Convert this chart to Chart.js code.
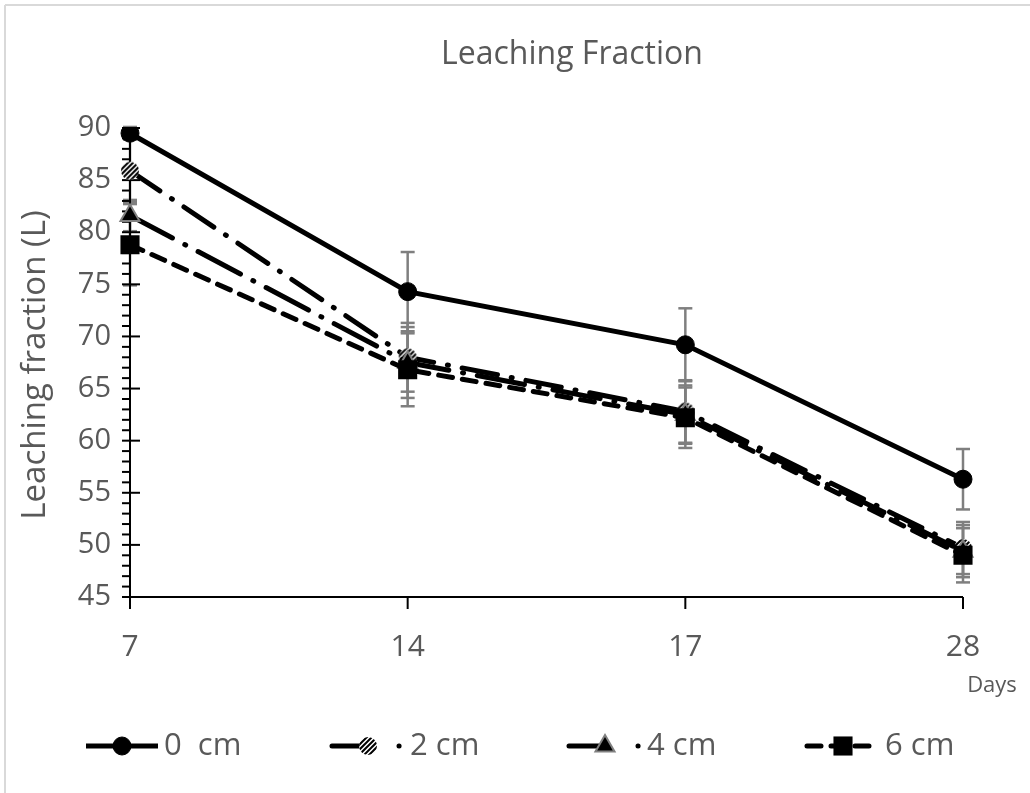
<!DOCTYPE html>
<html>
<head>
<meta charset="utf-8">
<script src="https://cdn.jsdelivr.net/npm/chart.js@4.4.1/dist/chart.umd.min.js"></script>
<style>
  html, body { margin: 0; padding: 0; background: #fff; }
  #wrap { width: 1030px; height: 793px; }
</style>
</head>
<body>
<div id="wrap"><canvas id="grafica" width="1030" height="793"></canvas></div>
<script>
// datos
const dias = ['7', '14', '17', '28'];
const series = ['0  cm', '2 cm', '4 cm', '6 cm'];
const valores0 = [89.5, 74.3, 69.2, 56.3];
const valores2 = [85.9, 68.0, 62.8, 49.7];
const valores4 = [81.6, 67.5, 62.5, 49.4];
const valores6 = [78.8, 66.8, 62.2, 49.0];
const error0 = [0.6, 3.8, 3.5, 2.9];
const error2 = [3.0, 3.3, 3.0, 2.5];
const error4 = [1.5, 3.4, 2.8, 2.5];
const error6 = [3.9, 3.5, 2.9, 2.6];
const ejeY = { min: 45, max: 90, paso: 5 };

const GRIS = '#595959';
const FUENTE = "'Open Sans', 'Noto Sans', sans-serif";

// marcador circular rayado (serie 2 cm)
function crearRayado(r) {
  const c = document.createElement('canvas');
  const s = r * 2 + 2;
  c.width = s; c.height = s;
  const g = c.getContext('2d');
  g.beginPath();
  g.arc(s / 2, s / 2, r, 0, Math.PI * 2);
  g.fillStyle = '#fff';
  g.fill();
  g.save();
  g.clip();
  g.strokeStyle = '#000';
  g.lineWidth = 2;
  for (let k = -s; k < 2 * s; k += 5) {
    g.beginPath();
    g.moveTo(k, s);
    g.lineTo(k + s, 0);
    g.stroke();
  }
  g.restore();
  return c;
}
const rayado = crearRayado(9);

const datasets = [
  {
    label: series[0], data: valores0, errores: error0,
    borderColor: '#000', borderWidth: 5, borderDash: [], trazoLeyenda: [],
    pointStyle: 'circle', pointRadius: 9,
    pointBackgroundColor: '#000', pointBorderColor: '#000', pointBorderWidth: 1,
    order: 3
  },
  {
    label: series[1], data: valores2, errores: error2,
    borderColor: '#000', borderWidth: 5, borderDash: [36, 14, 1, 14], borderCapStyle: 'round',
    trazoLeyenda: [36, 31, 0.1, 60],
    pointStyle: rayado, pointRadius: 9,
    order: 2
  },
  {
    label: series[2], data: valores4, errores: error4,
    borderColor: '#000', borderWidth: 5, borderDash: [48, 14, 1, 14], borderCapStyle: 'round',
    trazoLeyenda: [36, 33, 0.1, 60],
    pointStyle: 'triangle', pointRadius: 11,
    pointBackgroundColor: '#000', pointBorderColor: '#808080', pointBorderWidth: 2,
    order: 1
  },
  {
    label: series[3], data: valores6, errores: error6,
    borderColor: '#000', borderWidth: 5, borderDash: [14, 10], borderCapStyle: 'round',
    trazoLeyenda: [14, 10],
    pointStyle: 'rect', pointRadius: 13.5,
    pointBackgroundColor: '#000', pointBorderColor: '#000', pointBorderWidth: 0,
    order: 0
  }
];

const linea = (ctx, x1, y1, x2, y2) => {
  ctx.beginPath();
  ctx.moveTo(x1, y1);
  ctx.lineTo(x2, y2);
  ctx.stroke();
};

// ejes, marcas y barras de error (debajo de las series)
const decorado = {
  id: 'decorado',
  beforeDatasetsDraw(chart) {
    const ctx = chart.ctx;
    const a = chart.chartArea;
    const x = chart.scales.x;
    const y = chart.scales.y;
    ctx.save();

    // barras de error
    ctx.strokeStyle = '#7f7f7f';
    ctx.lineWidth = 2.5;
    chart.data.datasets.forEach((ds) => {
      ds.data.forEach((v, i) => {
        const e = ds.errores[i];
        const px = x.getPixelForValue(i);
        const arriba = y.getPixelForValue(v + e);
        const abajo = y.getPixelForValue(v - e);
        linea(ctx, px, arriba, px, abajo);
        linea(ctx, px - 7, arriba, px + 7, arriba);
        linea(ctx, px - 7, abajo, px + 7, abajo);
      });
    });

    // eje Y con marcas menores
    ctx.strokeStyle = '#000';
    ctx.lineWidth = 2;
    linea(ctx, a.left, a.top, a.left, a.bottom);
    for (let v = ejeY.min; v <= ejeY.max; v++) {
      const py = y.getPixelForValue(v);
      if (v % ejeY.paso === 0) linea(ctx, a.left - 8, py, a.left + 10, py);
      else linea(ctx, a.left - 8, py, a.left, py);
    }

    // eje X
    linea(ctx, a.left, a.bottom, a.right, a.bottom);
    dias.forEach((d, i) => {
      const px = x.getPixelForValue(i);
      linea(ctx, px, a.bottom, px, a.bottom + 12);
    });
    ctx.restore();
  },
  afterDraw(chart) {
    const ctx = chart.ctx;
    ctx.save();

    // marco del gráfico
    ctx.strokeStyle = '#d9d9d9';
    ctx.lineWidth = 2;
    linea(ctx, 5, 5, 1030, 5);
    linea(ctx, 5, 5, 5, 793);

    // títulos
    ctx.fillStyle = GRIS;
    ctx.textAlign = 'center';
    ctx.textBaseline = 'middle';
    ctx.font = `32px ${FUENTE}`;
    ctx.fillText('Leaching Fraction', 572, 55);
    ctx.font = `22px ${FUENTE}`;
    ctx.fillText('Days', 992, 686);

    ctx.save();
    ctx.translate(36, 365);
    ctx.rotate(-Math.PI / 2);
    ctx.font = `33px ${FUENTE}`;
    ctx.fillText('Leaching fraction (L)', 0, 0);
    ctx.restore();

    // leyenda
    const inicios = [86, 332, 569, 807];
    const yLey = 746;
    chart.data.datasets.forEach((ds, i) => {
      const x0 = inicios[i];
      ctx.strokeStyle = '#000';
      ctx.lineWidth = 5;
      ctx.lineCap = i === 0 ? 'butt' : 'round';
      ctx.setLineDash(ds.trazoLeyenda);
      linea(ctx, x0, yLey, x0 + 72, yLey);
      ctx.setLineDash([]);
      ctx.fillStyle = ds.pointBackgroundColor || '#000';
      ctx.strokeStyle = ds.pointBorderColor || '#000';
      ctx.lineWidth = ds.pointBorderWidth || 0;
      Chart.helpers.drawPoint(ctx, {
        pointStyle: ds.pointStyle, radius: ds.pointRadius, rotation: 0,
        borderWidth: ds.pointBorderWidth || 0
      }, x0 + 36, yLey);
      ctx.fillStyle = GRIS;
      ctx.textAlign = 'left';
      ctx.font = `31px ${FUENTE}`;
      ctx.fillText(ds.label, x0 + 78, yLey);
    });
    ctx.restore();
  }
};

new Chart(document.getElementById('grafica'), {
  type: 'line',
  data: { labels: dias, datasets },
  options: {
    responsive: false,
    animation: false,
    events: [],
    layout: { padding: { top: 128, left: 60, right: 67, bottom: 136 } },
    plugins: { legend: { display: false }, title: { display: false }, tooltip: { enabled: false } },
    elements: { line: { tension: 0, fill: false } },
    scales: {
      x: {
        type: 'category',
        offset: false,
        grid: { display: false, drawTicks: false },
        border: { display: false },
        ticks: { color: GRIS, font: { family: FUENTE, size: 30 }, padding: 32, maxRotation: 0, autoSkip: false },
        afterFit(s) { s.height = 60; }
      },
      y: {
        min: ejeY.min,
        max: ejeY.max,
        grid: { display: false, drawTicks: false },
        border: { display: false },
        ticks: { stepSize: ejeY.paso, color: GRIS, font: { family: FUENTE, size: 29 }, padding: 19 },
        afterFit(s) { s.width = 70; }
      }
    }
  },
  plugins: [decorado]
});
</script>
</body>
</html>
